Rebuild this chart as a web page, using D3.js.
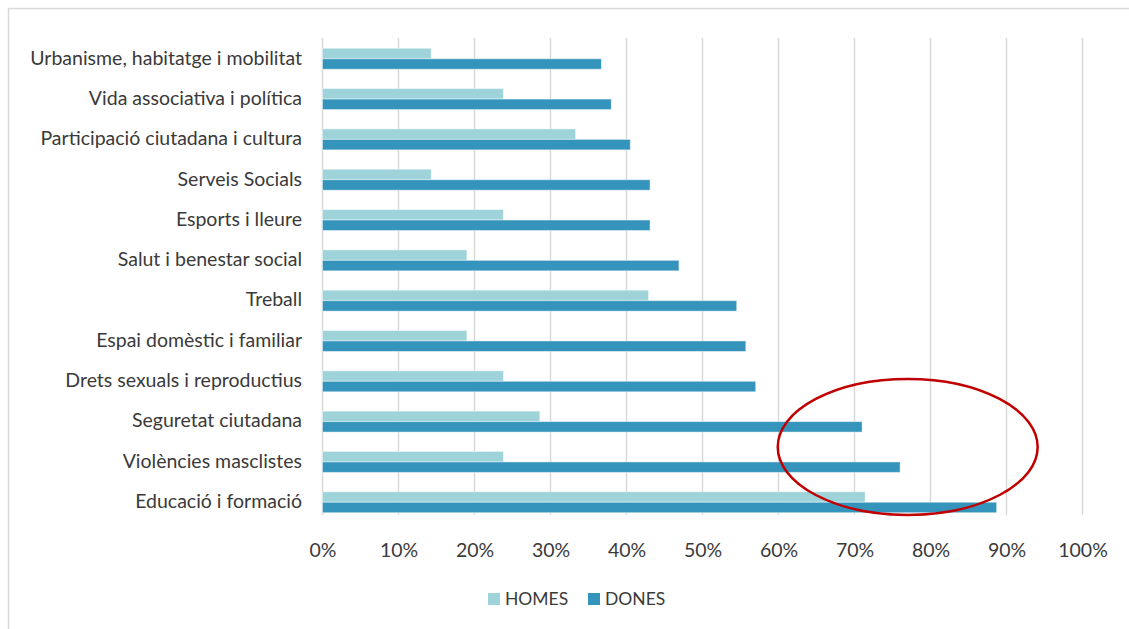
<!DOCTYPE html>
<html>
<head>
<meta charset="utf-8">
<script src="https://cdn.jsdelivr.net/npm/d3@7"></script>
<style>
	body { margin: 0; background: #fff; }
	svg { display: block; font-family: Lato, "Open Sans", sans-serif; }
</style>
</head>
<body>
<div id="chart"></div>
<script>
// bar chart HOMES vs DONES per area (values in %)

var categories = ["Urbanisme, habitatge i mobilitat", "Vida associativa i política",
	"Participació ciutadana i cultura", "Serveis Socials", "Esports i lleure",
	"Salut i benestar social", "Treball", "Espai domèstic i familiar",
	"Drets sexuals i reproductius", "Seguretat ciutadana", "Violències masclistes",
	"Educació i formació"];
var homes = [14.3, 23.8, 33.3, 14.3, 23.8, 19.0, 42.9, 19.0, 23.8, 28.6, 23.8, 71.4];
var dones = [36.7, 38.0, 40.5, 43.1, 43.1, 46.9, 54.5, 55.7, 57.0, 71.0, 76.0, 88.7];
var series = ["HOMES", "DONES"];
var colors = ["#9dd3d9", "#3594bc"];
var ticks = [0, 10, 20, 30, 40, 50, 60, 70, 80, 90, 100];

var width = 1129,
	height = 629;

var labelSize = 19.5;

var svg = d3.select("#chart").append("svg")
	.attr("width", width)
	.attr("height", height);

// outer frame (runs off the right and bottom edge)
svg.append("rect")
	.attr("x", 8.5).attr("y", 8.5)
	.attr("width", 1200).attr("height", 700)
	.attr("fill", "none")
	.attr("stroke", "#d9d9d9")
	.attr("stroke-width", 1.5);

var x = d3.scaleLinear().domain([0, 100]).range([322.5, 1082.5]);
var y = d3.scaleBand().domain(categories).range([38.6, 522.4]).paddingInner(0.48).paddingOuter(0.24);
var ySub = d3.scaleBand().domain(series).range([0, y.bandwidth()]);

var gridTop = 38, gridBottom = 515;

// gridlines
svg.append("g")
	.selectAll("line")
	.data(ticks)
	.enter()
	.append("line")
	.attr("x1", d => x(d)).attr("x2", d => x(d))
	.attr("y1", gridTop).attr("y2", gridBottom)
	.attr("stroke", "#d9d9d9")
	.attr("stroke-width", 1.5);

// tick labels via d3 axis, domain/ticks hidden
var xAxis = d3.axisBottom(x).tickValues(ticks).tickFormat(d => d + "%").tickSize(0).tickPadding(0);
var ax = svg.append("g")
	.attr("transform", "translate(0,550)")
	.call(xAxis);
ax.select(".domain").remove();
ax.selectAll("text")
	.attr("dy", "0.35em")
	.attr("font-family", "Lato, 'Open Sans', sans-serif")
	.attr("font-size", labelSize)
	.attr("fill", "#3a3a3a");

// category labels
svg.append("g")
	.selectAll("text")
	.data(categories)
	.enter()
	.append("text")
	.attr("x", 302)
	.attr("y", d => y(d) + y.bandwidth() / 2 - 1)
	.attr("dy", "0.35em")
	.attr("text-anchor", "end")
	.attr("font-size", labelSize)
	.attr("fill", "#3a3a3a")
	.text(d => d);

// bars
var rows = categories.map((c, i) => ({cat: c, vals: [homes[i], dones[i]]}));

var groups = svg.append("g")
	.selectAll("g")
	.data(rows)
	.enter()
	.append("g")
	.attr("transform", d => "translate(0," + y(d.cat) + ")");

groups.selectAll("rect")
	.data(d => d.vals.map((v, j) => ({s: series[j], v: v, j: j})))
	.enter()
	.append("rect")
	.attr("x", x(0))
	.attr("y", d => ySub(d.s))
	.attr("width", d => x(d.v) - x(0))
	.attr("height", ySub.bandwidth())
	.attr("fill", d => colors[d.j])
	.attr("stroke", "rgba(255,255,255,0.45)")
	.attr("stroke-width", 1);

// red ellipse annotation around the top DONES values
var cyEllipse = y("Violències masclistes") + y.bandwidth() / 2 - 15;
svg.append("ellipse")
	.attr("cx", x(77))
	.attr("cy", cyEllipse)
	.attr("rx", x(94.1) - x(77))
	.attr("ry", 68)
	.attr("fill", "none")
	.attr("stroke", "#c00000")
	.attr("stroke-width", 2.5);

// legend
var legend = svg.append("g")
	.attr("transform", "translate(488,599)");
var legX = [0, 100];
series.forEach(function(s, i){
	var g = legend.append("g").attr("transform", "translate(" + legX[i] + ",0)");
	g.append("rect")
		.attr("x", 0).attr("y", -6)
		.attr("width", 12).attr("height", 12)
		.attr("fill", colors[i]);
	g.append("text")
		.attr("x", 17).attr("y", 0)
		.attr("dy", "0.35em")
		.attr("font-size", 17.5)
		.attr("fill", "#3a3a3a")
		.text(s);
});
</script>
</body>
</html>
